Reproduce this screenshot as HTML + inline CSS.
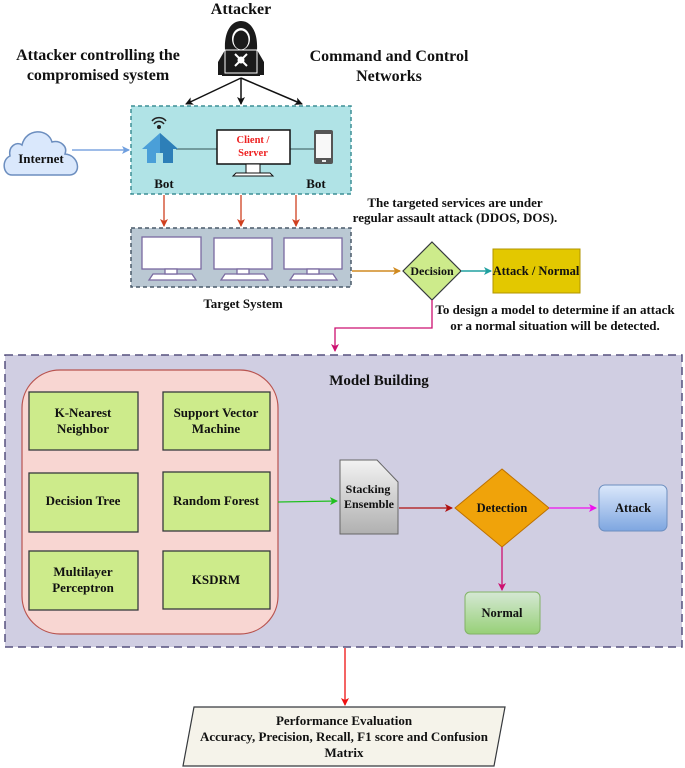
<!DOCTYPE html>
<html><head><meta charset="utf-8"><style>
body{margin:0;background:#fff}
svg{display:block}
text{font-family:"Liberation Serif",serif;font-weight:bold;fill:#111}
</style></head><body>
<svg width="685" height="768" viewBox="0 0 685 768" xmlns="http://www.w3.org/2000/svg">
<defs>
<marker id="ab" markerWidth="8" markerHeight="8" refX="7" refY="4" orient="auto" markerUnits="userSpaceOnUse"><path d="M0,0 L8,4 L0,8 L2,4z" fill="#111"/></marker>
<marker id="ar" markerWidth="8" markerHeight="8" refX="7" refY="4" orient="auto" markerUnits="userSpaceOnUse"><path d="M0,0 L8,4 L0,8 L2,4z" fill="#d04020"/></marker>
<marker id="ao" markerWidth="8" markerHeight="8" refX="7" refY="4" orient="auto" markerUnits="userSpaceOnUse"><path d="M0,0 L8,4 L0,8 L2,4z" fill="#d08a20"/></marker>
<marker id="at" markerWidth="8" markerHeight="8" refX="7" refY="4" orient="auto" markerUnits="userSpaceOnUse"><path d="M0,0 L8,4 L0,8 L2,4z" fill="#20a0a0"/></marker>
<marker id="ap" markerWidth="8" markerHeight="8" refX="7" refY="4" orient="auto" markerUnits="userSpaceOnUse"><path d="M0,0 L8,4 L0,8 L2,4z" fill="#cc1070"/></marker>
<marker id="ag" markerWidth="8" markerHeight="8" refX="7" refY="4" orient="auto" markerUnits="userSpaceOnUse"><path d="M0,0 L8,4 L0,8 L2,4z" fill="#20c020"/></marker>
<marker id="ad" markerWidth="8" markerHeight="8" refX="7" refY="4" orient="auto" markerUnits="userSpaceOnUse"><path d="M0,0 L8,4 L0,8 L2,4z" fill="#b01010"/></marker>
<marker id="am" markerWidth="8" markerHeight="8" refX="7" refY="4" orient="auto" markerUnits="userSpaceOnUse"><path d="M0,0 L8,4 L0,8 L2,4z" fill="#ee10ee"/></marker>
<marker id="aR" markerWidth="8" markerHeight="8" refX="7" refY="4" orient="auto" markerUnits="userSpaceOnUse"><path d="M0,0 L8,4 L0,8 L2,4z" fill="#ee1010"/></marker>
<marker id="aB" markerWidth="8" markerHeight="8" refX="7" refY="4" orient="auto" markerUnits="userSpaceOnUse"><path d="M0,0 L8,4 L0,8 L2,4z" fill="#6f9fdf"/></marker>
<linearGradient id="gs" x1="0" y1="0" x2="0" y2="1"><stop offset="0" stop-color="#f2f2f2"/><stop offset="1" stop-color="#b0b0b0"/></linearGradient>
<linearGradient id="gb" x1="0" y1="0" x2="0" y2="1"><stop offset="0" stop-color="#dbe8fb"/><stop offset="1" stop-color="#7ea6e0"/></linearGradient>
<linearGradient id="gn" x1="0" y1="0" x2="0" y2="1"><stop offset="0" stop-color="#d5e8d4"/><stop offset="1" stop-color="#97d077"/></linearGradient>
</defs>

<text x="241" y="14" font-size="16" text-anchor="middle">Attacker</text>
<text x="98" y="60" font-size="16" text-anchor="middle">Attacker controlling the</text>
<text x="98" y="80" font-size="16" text-anchor="middle">compromised system</text>
<text x="389" y="61" font-size="16" text-anchor="middle">Command and Control</text>
<text x="389" y="81" font-size="16" text-anchor="middle">Networks</text>

<!-- attacker icon -->
<path d="M225,50 C224,32 231,21 241,21 C251,21 258,32 257,50 L264,62 L264,75 L218,75 L218,62z" fill="#1a1a1a"/>
<ellipse cx="241" cy="39" rx="9" ry="11" fill="#fff"/>
<ellipse cx="241" cy="40" rx="7.5" ry="9.5" fill="#1a1a1a"/>
<rect x="225" y="50" width="32" height="23" fill="#1a1a1a" stroke="#fff" stroke-width="1"/>
<circle cx="241" cy="60" r="3.5" fill="#fff"/>
<path d="M235,54 L247,66 M247,54 L235,66" stroke="#fff" stroke-width="2"/>
<rect x="222" y="74" width="38" height="2" fill="#1a1a1a"/>

<line x1="241" y1="78" x2="186" y2="104" stroke="#111" stroke-width="1.5" marker-end="url(#ab)"/>
<line x1="241" y1="78" x2="241" y2="104" stroke="#111" stroke-width="1.5" marker-end="url(#ab)"/>
<line x1="241" y1="78" x2="302" y2="104" stroke="#111" stroke-width="1.5" marker-end="url(#ab)"/>

<rect x="131" y="106" width="220" height="88" fill="#b0e3e6" stroke="#3d8f95" stroke-width="1.5" stroke-dasharray="4,3"/>
<line x1="176" y1="149" x2="217" y2="149" stroke="#355" stroke-width="1"/>
<line x1="290" y1="149" x2="314" y2="149" stroke="#355" stroke-width="1"/>
<path d="M152,121 A9,9 0 0 1 166,121 M154,124 A6,6 0 0 1 164,124" fill="none" stroke="#222" stroke-width="1.5"/>
<circle cx="159" cy="127" r="2" fill="#222"/>
<path d="M160,133 L178,149 L173,149 L173,163 L147,163 L147,149 L142,149z" fill="#4a9fd8"/>
<path d="M160,133 L178,149 L173,149 L173,163 L160,163z" fill="#2d7fb8"/>
<rect x="156" y="153" width="7" height="10" fill="#b0e3e6"/>
<rect x="217" y="130" width="73" height="34" fill="#fff" stroke="#111" stroke-width="1.5"/>
<rect x="246" y="164" width="14" height="9" fill="#fff" stroke="#111" stroke-width="1"/>
<path d="M233,176 L236,173 L270,173 L273,176z" fill="#fff" stroke="#111" stroke-width="1"/>
<text x="253" y="143" font-size="10.5" text-anchor="middle" style="fill:#ee2020">Client /</text>
<text x="253" y="156" font-size="10.5" text-anchor="middle" style="fill:#ee2020">Server</text>
<rect x="314" y="130" width="19" height="34" rx="2" fill="#555"/>
<rect x="316" y="134" width="15" height="24" fill="#f8f8f8"/>
<rect x="322" y="160" width="4" height="2" fill="#eee"/>
<text x="164" y="188" font-size="13" text-anchor="middle">Bot</text>
<text x="316" y="188" font-size="13" text-anchor="middle">Bot</text>

<path d="M12,175 C3,175 1,160 10,156 C8,146 17,141 22,145 C26,128 48,128 52,142 C60,140 68,146 65,154 C79,155 82,174 70,175z" fill="#dae8fc" stroke="#6c8ebf" stroke-width="1.5"/>
<text x="41" y="163" font-size="13" text-anchor="middle">Internet</text>
<line x1="72" y1="150" x2="129" y2="150" stroke="#7ea6e0" stroke-width="1.5" marker-end="url(#aB)"/>

<line x1="164" y1="195" x2="164" y2="226" stroke="#d04020" stroke-width="1.3" marker-end="url(#ar)"/>
<line x1="241" y1="195" x2="241" y2="226" stroke="#d04020" stroke-width="1.3" marker-end="url(#ar)"/>
<line x1="296" y1="195" x2="296" y2="226" stroke="#d04020" stroke-width="1.3" marker-end="url(#ar)"/>

<text x="455" y="207" font-size="13" text-anchor="middle">The targeted services are under</text>
<text x="455" y="222" font-size="13" text-anchor="middle">regular assault attack (DDOS, DOS).</text>

<rect x="131" y="228" width="220" height="59" fill="#bac8d3" stroke="#4a5a6a" stroke-width="1.5" stroke-dasharray="4,3"/>
<g fill="#fff" stroke="#7a6aa0" stroke-width="1.3">
<rect x="142" y="237" width="59" height="32"/><rect x="214" y="238" width="58" height="31"/><rect x="284" y="238" width="58" height="31"/>
<path d="M149,280 L153,274 L192,274 L196,280z"/><path d="M221,280 L225,274 L264,274 L268,280z"/><path d="M290,280 L294,274 L333,274 L337,280z"/>
<rect x="165" y="269" width="12" height="5"/><rect x="237" y="269" width="12" height="5"/><rect x="307" y="269" width="12" height="5"/>
</g>
<text x="243" y="308" font-size="13" text-anchor="middle">Target System</text>

<line x1="352" y1="271" x2="400" y2="271" stroke="#d08a20" stroke-width="1.5" marker-end="url(#ao)"/>
<path d="M432,242 L461,271 L432,300 L403,271z" fill="#cdeb8b" stroke="#36393d" stroke-width="1.2"/>
<text x="432" y="275" font-size="12" text-anchor="middle">Decision</text>
<line x1="461" y1="271" x2="491" y2="271" stroke="#20a0a0" stroke-width="1.5" marker-end="url(#at)"/>
<rect x="493" y="249" width="87" height="44" fill="#e3c800" stroke="#b09500" stroke-width="1"/>
<text x="536" y="275" font-size="12.5" text-anchor="middle">Attack / Normal</text>
<text x="555" y="314" font-size="13" text-anchor="middle">To design a model to determine if an attack</text>
<text x="555" y="330" font-size="13" text-anchor="middle">or a normal situation will be detected.</text>
<path d="M432,300 L432,328 L335,328 L335,351" fill="none" stroke="#cc1070" stroke-width="1.3" marker-end="url(#ap)"/>

<rect x="5" y="355" width="677" height="292" fill="#d0cee2" stroke="#56517e" stroke-width="1.5" stroke-dasharray="8,5"/>
<text x="379" y="385" font-size="15" text-anchor="middle">Model Building</text>
<rect x="22" y="370" width="256" height="264" rx="38" fill="#f8d6d2" stroke="#b85450" stroke-width="1.2"/>
<g fill="#cdeb8b" stroke="#36393d" stroke-width="1.3">
<rect x="29" y="392" width="109" height="58"/><rect x="163" y="392" width="107" height="58"/>
<rect x="29" y="473" width="109" height="59"/><rect x="163" y="472" width="107" height="59"/>
<rect x="29" y="551" width="109" height="59"/><rect x="163" y="551" width="107" height="58"/>
</g>
<g font-size="13" text-anchor="middle">
<text x="83" y="417">K-Nearest</text><text x="83" y="433">Neighbor</text>
<text x="216" y="417">Support Vector</text><text x="216" y="433">Machine</text>
<text x="83" y="505">Decision Tree</text>
<text x="216" y="505">Random Forest</text>
<text x="83" y="576">Multilayer</text><text x="83" y="592">Perceptron</text>
<text x="216" y="584">KSDRM</text>
</g>
<line x1="278" y1="502" x2="337" y2="501" stroke="#20c020" stroke-width="1.3" marker-end="url(#ag)"/>
<path d="M340,460 L377,460 L398,482 L398,534 L340,534z" fill="url(#gs)" stroke="#666" stroke-width="1"/>
<text x="368" y="493" font-size="12" text-anchor="middle">Stacking</text>
<text x="369" y="508" font-size="12" text-anchor="middle">Ensemble</text>
<line x1="399" y1="508" x2="452" y2="508" stroke="#b01010" stroke-width="1.3" marker-end="url(#ad)"/>
<path d="M502,469 L549,508 L502,547 L455,508z" fill="#f0a30a" stroke="#bd7000" stroke-width="1"/>
<text x="502" y="512" font-size="12.5" text-anchor="middle">Detection</text>
<line x1="549" y1="508" x2="596" y2="508" stroke="#ee10ee" stroke-width="1.3" marker-end="url(#am)"/>
<rect x="599" y="485" width="68" height="46" rx="6" fill="url(#gb)" stroke="#6c8ebf" stroke-width="1"/>
<text x="633" y="512" font-size="12.5" text-anchor="middle">Attack</text>
<line x1="502" y1="547" x2="502" y2="590" stroke="#cc1070" stroke-width="1.3" marker-end="url(#ap)"/>
<rect x="465" y="592" width="75" height="42" rx="5" fill="url(#gn)" stroke="#82b366" stroke-width="1"/>
<text x="502" y="617" font-size="12.5" text-anchor="middle">Normal</text>

<line x1="345" y1="648" x2="345" y2="705" stroke="#ee1010" stroke-width="1.3" marker-end="url(#aR)"/>
<path d="M194,707 L505,707 L494,766 L183,766z" fill="#f5f3ea" stroke="#36393d" stroke-width="1.2"/>
<text x="344" y="725" font-size="13" text-anchor="middle">Performance Evaluation</text>
<text x="344" y="741" font-size="13" text-anchor="middle">Accuracy, Precision, Recall, F1 score and Confusion</text>
<text x="344" y="757" font-size="13" text-anchor="middle">Matrix</text>
</svg>
</body></html>
